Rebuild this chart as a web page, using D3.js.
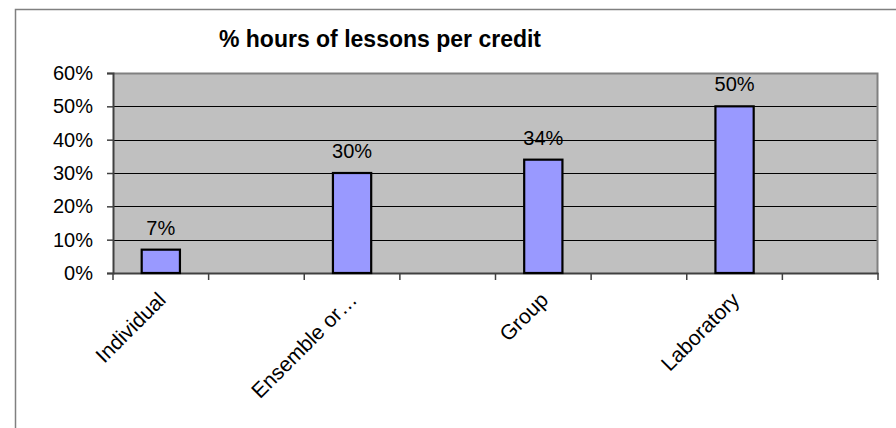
<!DOCTYPE html>
<html>
<head>
<meta charset="utf-8">
<script src="https://cdn.jsdelivr.net/npm/d3@7/dist/d3.min.js"></script>
<style>
  html, body { margin: 0; padding: 0; background: #fff; }
  svg { display: block; font-family: "Liberation Sans", Arial, sans-serif; }
</style>
</head>
<body>
<svg id="chart" width="896" height="428"></svg>
<script>
// ---- data ----
const categories = ["Individual", "", "Ensemble or\u2026", "", "Group", "", "Laboratory", ""];
const values = [0.07, null, 0.30, null, 0.34, null, 0.50, null];
const valueLabels = ["7%", "", "30%", "", "34%", "", "50%", ""];
const yTicks = [0, 0.1, 0.2, 0.3, 0.4, 0.5, 0.6];
const title = "% hours of lessons per credit";

const svg = d3.select("#chart");
const plot = { left: 113, right: 878, top: 73, bottom: 273 };

// outer chart border (cropped on right/bottom)
svg.append("rect")
  .attr("x", 15.5).attr("y", 9.5).attr("width", 1000).attr("height", 1000)
  .attr("fill", "#fff").attr("stroke", "#808080").attr("stroke-width", 1.5);

const x = d3.scaleBand().domain(d3.range(categories.length))
  .range([plot.left, plot.right]).paddingInner(0).paddingOuter(0);
const y = d3.scaleLinear().domain([0, 0.6]).range([plot.bottom, plot.top]);

// plot background
svg.append("rect")
  .attr("x", plot.left).attr("y", plot.top)
  .attr("width", plot.right - plot.left).attr("height", plot.bottom - plot.top)
  .attr("fill", "#C0C0C0");

// gridlines
svg.append("g").selectAll("line").data(yTicks.slice(1)).join("line")
  .attr("x1", plot.left).attr("x2", plot.right)
  .attr("y1", d => Math.round(y(d)) + 0.5).attr("y2", d => Math.round(y(d)) + 0.5)
  .attr("stroke", "#000").attr("stroke-width", 1.2);

// plot border (top/right gray)
svg.append("path")
  .attr("d", `M${plot.left},${plot.top + 0.5}H${plot.right - 0.5}V${plot.bottom}`)
  .attr("fill", "none").attr("stroke", "#808080").attr("stroke-width", 2);

// y axis
const yAxis = d3.axisLeft(y).tickValues(yTicks).tickFormat(d3.format(".0%"))
  .tickSize(6).tickPadding(14);
const gy = svg.append("g").attr("transform", `translate(${plot.left},0)`).call(yAxis);
gy.select(".domain").attr("stroke", "#404040").attr("stroke-width", 2);
gy.selectAll(".tick line").attr("stroke", "#404040").attr("stroke-width", 1.5);
gy.selectAll(".tick text").attr("font-size", 20).attr("fill", "#000")
  .attr("font-family", "Liberation Sans, Arial, sans-serif");

// x axis line + tick marks at band boundaries
const xAxis = d3.axisBottom(x).tickSize(0).tickFormat(i => categories[i]);
const gx = svg.append("g").attr("transform", `translate(0,${plot.bottom})`).call(xAxis);
gx.select(".domain").attr("stroke", "#404040").attr("stroke-width", 2);
gx.selectAll(".tick text")
  .attr("font-size", 21).attr("fill", "#000")
  .attr("font-family", "Liberation Sans, Arial, sans-serif")
  .attr("text-anchor", "end")
  .attr("y", 0).attr("dy", "0.35em")
  .attr("transform", "translate(1,23) rotate(-45)");

const boundaries = d3.range(categories.length + 1).map(i =>
  i < categories.length ? x(i) : x(categories.length - 1) + x.bandwidth());
svg.append("g").selectAll("line").data(boundaries).join("line")
  .attr("x1", d => d).attr("x2", d => d)
  .attr("y1", plot.bottom).attr("y2", plot.bottom + 7)
  .attr("stroke", "#404040").attr("stroke-width", 1.5);

// bars
const bw = x.bandwidth() * 0.4;
const barData = values.map((v, i) => ({ v, i })).filter(d => d.v != null);
svg.append("g").selectAll("rect").data(barData).join("rect")
  .attr("x", d => x(d.i) + (x.bandwidth() - bw) / 2)
  .attr("y", d => y(d.v))
  .attr("width", bw)
  .attr("height", d => y(0) - y(d.v))
  .attr("fill", "#9999FF").attr("stroke", "#000").attr("stroke-width", 2.2);

// data labels
svg.append("g").selectAll("text").data(barData).join("text")
  .attr("x", d => x(d.i) + x.bandwidth() / 2)
  .attr("y", d => y(d.v) - 15)
  .attr("text-anchor", "middle")
  .attr("font-size", 20).attr("fill", "#000")
  .text(d => valueLabels[d.i]);

// title
svg.append("text")
  .attr("x", 380).attr("y", 47)
  .attr("text-anchor", "middle")
  .attr("font-size", 23).attr("font-weight", "bold").attr("fill", "#000")
  .text(title);
</script>
</body>
</html>
